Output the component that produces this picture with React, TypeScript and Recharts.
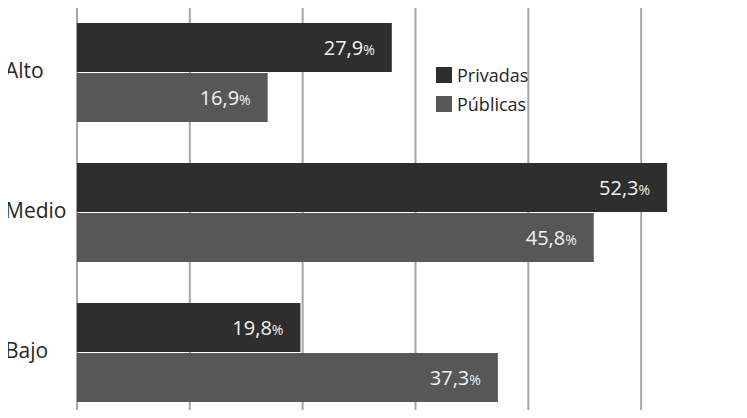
import React from 'react';
import { BarChart, Bar, XAxis, YAxis, CartesianGrid, Legend, LabelList } from 'recharts';

const categories = ['Alto', 'Medio', 'Bajo'];
const privadas = [27.9, 52.3, 19.8];
const publicas = [16.9, 45.8, 37.3];
const xTicks = [0, 10, 20, 30, 40, 50];
const xDomain = [0, 60];

const data = categories.map((name, i) => ({ name, Privadas: privadas[i], Públicas: publicas[i] }));

const FONT = '"Open Sans", sans-serif';

const fmt = (v: number) => v.toFixed(1).replace('.', ',');

const ValueLabel = (props: any) => {
  const { x, y, width, height, value } = props;
  return (
    <text
      x={x + width - 17}
      y={y + height / 2 + 7}
      textAnchor="end"
      fill="#f2f2f2"
      fontFamily={FONT}
    >
      <tspan fontSize={20}>{fmt(value)}</tspan>
      <tspan fontSize={14}>%</tspan>
    </text>
  );
};

const CategoryTick = (props: any) => {
  const { y, payload } = props;
  return (
    <text x={5} y={y + 6} textAnchor="start" fill="#262626" fontSize={21} fontFamily={FONT}>
      {payload.value}
    </text>
  );
};

const LegendContent = (props: any) => {
  const { payload } = props;
  return (
    <div style={{ fontFamily: FONT }}>
      {(payload || []).map((p: any) => (
        <div key={p.value} style={{ display: 'flex', alignItems: 'center', height: 28.5 }}>
          <span style={{ display: 'inline-block', width: 16, height: 16, background: p.color, marginRight: 5 }} />
          <span style={{ fontSize: 18, color: '#262626' }}>{p.value}</span>
        </div>
      ))}
    </div>
  );
};

const GridLine = (props: any) => {
  const { x1, x2, y1, y2 } = props;
  return <line x1={x1} x2={x2} y1={y1 + 4} y2={y2} stroke="#a6a6a6" strokeWidth={2} />;
};

const gridX = (args: any) => {
  const off = args?.offset;
  if (!off) return [];
  return xTicks.map((t) => off.left + ((t - xDomain[0]) / (xDomain[1] - xDomain[0])) * off.width);
};

export default function App() {
  return (
    <div style={{ margin: -8, width: 747, height: 418, overflow: 'hidden', position: 'relative', background: '#fff' }}>
      <BarChart
        width={760}
        height={430}
        data={data}
        layout="vertical"
        margin={{ top: 2, right: 6, bottom: 8, left: 0 }}
        barSize={49}
        barGap={1}
      >
        <CartesianGrid horizontal={false} vertical={GridLine} verticalCoordinatesGenerator={gridX} />
        <XAxis type="number" domain={xDomain} ticks={xTicks} hide />
        <YAxis type="category" dataKey="name" width={77} tick={CategoryTick} axisLine={false} tickLine={false} />
        <Legend
          layout="vertical"
          align="center"
          verticalAlign="middle"
          content={LegendContent}
          wrapperStyle={{ position: 'absolute', left: 436, top: 61, width: 'auto', height: 'auto' }}
        />
        <Bar dataKey="Privadas" fill="#2e2e2e" isAnimationActive={false}>
          <LabelList dataKey="Privadas" content={ValueLabel} />
        </Bar>
        <Bar dataKey="Públicas" fill="#575757" isAnimationActive={false}>
          <LabelList dataKey="Públicas" content={ValueLabel} />
        </Bar>
      </BarChart>
    </div>
  );
}
